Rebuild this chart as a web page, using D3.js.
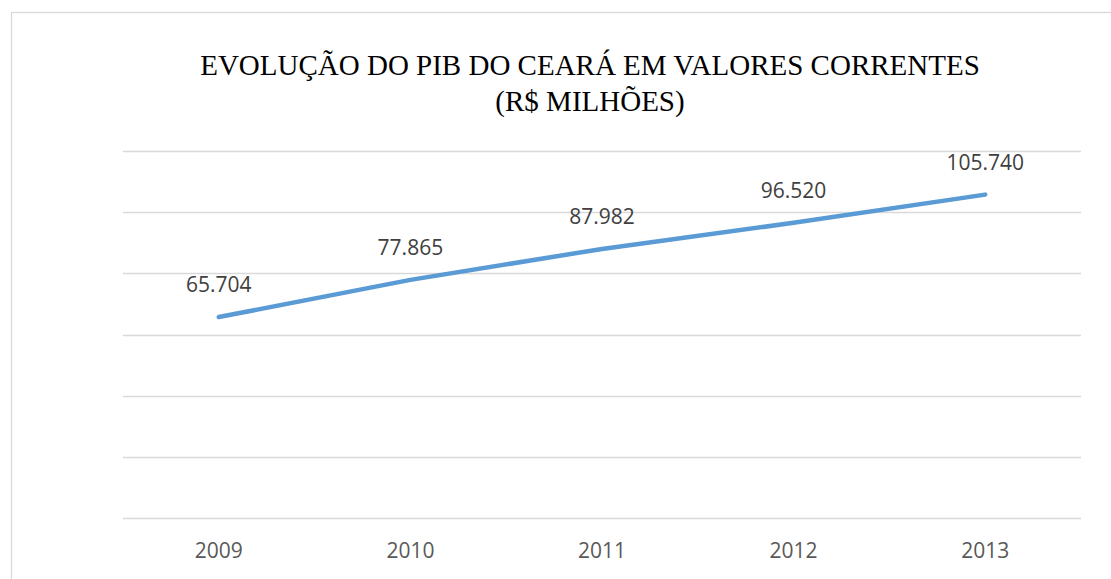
<!DOCTYPE html>
<html>
<head>
<meta charset="utf-8">
<script src="https://cdn.jsdelivr.net/npm/d3@7"></script>
<style>
  body { margin: 0; background: #fff; }
</style>
</head>
<body>
<div id="chart"></div>
<script>
// data
const years = ["2009", "2010", "2011", "2012", "2013"];
const pib = [65704, 77865, 87982, 96520, 105740];
const gridTicks = [0, 20000, 40000, 60000, 80000, 100000, 120000];
const titleLines = ["EVOLUÇÃO DO PIB DO CEARÁ EM VALORES CORRENTES", "(R$ MILHÕES)"];

const width = 1111, height = 579;
const margin = {top: 151, right: 30, bottom: 61, left: 123};

const svg = d3.select("#chart").append("svg")
    .attr("width", width)
    .attr("height", height);

// chart area border (runs off the page right and bottom)
svg.append("rect")
    .attr("x", 11.5).attr("y", 12.5)
    .attr("width", 1120).attr("height", 600)
    .attr("fill", "#fff")
    .attr("stroke", "#d9d9d9")
    .attr("stroke-width", 1.3);

const x = d3.scaleBand()
    .domain(years)
    .range([margin.left, width - margin.right]);

const y = d3.scaleLinear()
    .domain([0, 120000])
    .range([height - margin.bottom, margin.top]);

// gridlines
svg.append("g")
    .selectAll("line")
    .data(gridTicks)
    .join("line")
    .attr("x1", margin.left)
    .attr("x2", 1081)
    .attr("y1", d => Math.round(y(d)) + 0.5)
    .attr("y2", d => Math.round(y(d)) + 0.5)
    .attr("stroke", "#d9d9d9")
    .attr("stroke-width", 1.3);

// x axis labels
svg.append("g")
    .selectAll("text")
    .data(years)
    .join("text")
    .attr("x", d => x(d) + x.bandwidth() / 2)
    .attr("y", 558)
    .attr("text-anchor", "middle")
    .attr("fill", "#595959")
    .style("font", "21px 'Open Sans', sans-serif")
    .text(d => d);

const pts = years.map((yr, i) => ({year: yr, value: pib[i]}));

const line = d3.line()
    .x(d => x(d.year) + x.bandwidth() / 2)
    .y(d => y(d.value));

svg.append("path")
    .datum(pts)
    .attr("fill", "none")
    .attr("stroke", "#5b9bd5")
    .attr("stroke-width", 4.5)
    .attr("stroke-linecap", "round")
    .attr("stroke-linejoin", "round")
    .attr("d", line);

// data labels
const fmt = d3.formatLocale({decimal: ",", thousands: ".", grouping: [3], currency: ["R$", ""]}).format(",d");
svg.append("g")
    .selectAll("text")
    .data(pts)
    .join("text")
    .attr("x", d => x(d.year) + x.bandwidth() / 2)
    .attr("y", d => y(d.value) - 25)
    .attr("text-anchor", "middle")
    .attr("fill", "#404040")
    .style("font", "21px 'Open Sans', sans-serif")
    .text(d => fmt(d.value));

// title
svg.append("g")
    .selectAll("text")
    .data(titleLines)
    .join("text")
    .attr("x", 590)
    .attr("y", (d, i) => 75 + i * 36)
    .attr("text-anchor", "middle")
    .attr("fill", "#000")
    .style("font", "29px 'Liberation Serif', 'Times New Roman', serif")
    .text(d => d);
</script>
</body>
</html>
